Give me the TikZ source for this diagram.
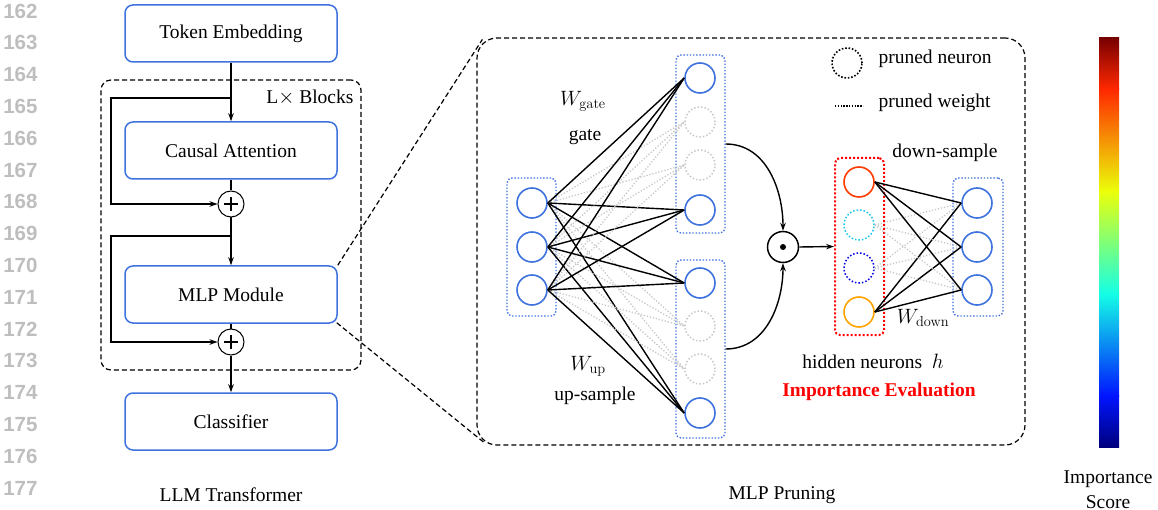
\documentclass[tikz,border=0pt]{standalone}
\usepackage[no-math]{fontspec}
\setmainfont{Liberation Serif}
\newfontfamily\numfont{Liberation Sans}
\usetikzlibrary{arrows.meta}
\definecolor{boxblue}{RGB}{62,114,222}
\definecolor{linegray}{RGB}{190,190,190}
\definecolor{prgray}{RGB}{200,200,200}
\definecolor{hred}{RGB}{255,60,0}
\definecolor{hcyan}{RGB}{20,200,235}
\definecolor{hblue}{RGB}{0,0,225}
\definecolor{horange}{RGB}{255,165,0}
\definecolor{jetA}{RGB}{120,0,0}
\definecolor{jetB}{RGB}{255,40,0}
\definecolor{jetC}{RGB}{235,255,10}
\definecolor{jetD}{RGB}{20,255,230}
\definecolor{jetE}{RGB}{0,20,255}
\definecolor{jetF}{RGB}{0,0,125}
\tikzset{
  blk/.style={draw=boxblue, line width=1.5pt, rounded corners=8pt, minimum width=212pt, minimum height=57pt, inner sep=0pt},
  arr/.style={line width=1.4pt, -{Stealth[length=8pt,width=5.5pt]}},
  ln/.style={line width=1.4pt},
  plusc/.style={circle, draw, line width=1pt, minimum size=26pt, inner sep=0pt},
  plusbar/.style={line width=2pt},
  frame/.style={draw, line width=1.2pt, dash pattern=on 5pt off 3pt, rounded corners=#1},
  neuron/.style={circle, draw=boxblue, line width=1.6pt, minimum size=30pt, inner sep=0pt},
  pneuron/.style={circle, draw=prgray, line width=1.5pt, dash pattern=on 1.5pt off 2pt, minimum size=30pt, inner sep=0pt},
  grp/.style={draw=boxblue, line width=1.4pt, dash pattern=on 1.4pt off 1.8pt, rounded corners=5pt, inner sep=0pt},
  wt/.style={line width=1.4pt},
  pwt/.style={draw=prgray, line width=1.3pt, dash pattern=on 1.3pt off 1.8pt},
  lnum/.style={anchor=east, text=linegray, font=\numfont\bfseries\fontsize{20.5}{24}\selectfont},
}
\begin{document}
\begin{tikzpicture}[x=1pt,y=-1pt,font=\fontsize{19.5}{23}\selectfont]
\useasboundingbox (0,0) rectangle (1158,510);
% line numbers
\foreach \i [evaluate=\i as \yy using 11+31.8*\i, evaluate=\i as \num using int(162+\i)] in {0,...,15}
  \node[lnum] (n\i) at (41,\yy) {\num};
% left column
\node[frame=10pt, minimum width=260pt, minimum height=290pt, inner sep=0pt] (blocks) at (231,225) {};
\node[blk] (tok) at (231,33.5) {Token Embedding};
\node[blk] (att) at (231,150.5) {Causal Attention};
\node[blk] (mlp) at (231,294.5) {MLP Module};
\node[blk] (cls) at (231,421.5) {Classifier};
\node[plusc] (p1) at (231,204) {};
\node[plusc] (p2) at (231,342) {};
\foreach \p in {p1,p2}{
  \draw[plusbar] ([xshift=-7pt]\p.center) -- ([xshift=7pt]\p.center);
  \draw[plusbar] ([yshift=-7pt]\p.center) -- ([yshift=7pt]\p.center);
}
\node[anchor=east] (lbl) at (357,98) {L$\times$ Blocks};
\coordinate (s1) at (231,98);
\coordinate (s2) at (231,236);
\draw[arr] (tok) -- (att);
\draw[ln] (att) -- (p1);
\draw[arr] (p1) -- (mlp);
\draw[ln] (mlp) -- (p2);
\draw[arr] (p2) -- (cls);
\draw[arr] (s1) -- (111,98) |- (p1.west);
\draw[arr] (s2) -- (111,236) |- (p2.west);
\node (llm) at (231,495) {LLM Transformer};
% big box
\node[frame=20pt, minimum width=548pt, minimum height=407pt, inner sep=0pt] (big) at (751,241.5) {};
\draw[line width=1.2pt, dash pattern=on 5pt off 3pt] (mlp.north east) -- ([shift={(6,2)}]big.north west);
\draw[line width=1.2pt, dash pattern=on 5pt off 3pt] ([shift={(-1,-1)}]mlp.south east) -- ([shift={(9,-2)}]big.south west);
\node (mlpp) at (782,495) {MLP Pruning};
% groups
\node[grp, minimum width=49pt, minimum height=138pt] (gin) at (531.5,247) {};
\node[grp, minimum width=49pt, minimum height=178pt] (ggate) at (700.5,144) {};
\node[grp, minimum width=49pt, minimum height=178pt] (gup) at (700.5,349) {};
\node[grp, minimum width=50pt, minimum height=138pt] (gout) at (978,247) {};
\node[grp, draw=red, line width=2pt, dash pattern=on 2pt off 2pt, minimum width=49pt, minimum height=177pt] (ghid) at (859.5,246.5) {};
% neurons
\node[neuron] (in1) at (532,203) {};
\node[neuron] (in2) at (532,247) {};
\node[neuron] (in3) at (532,290) {};
\node[neuron] (g1) at (700,78) {};
\node[pneuron] (g2) at (700,122) {};
\node[pneuron] (g3) at (700,165) {};
\node[neuron] (g4) at (700,210) {};
\node[neuron] (u1) at (700,283) {};
\node[pneuron] (u2) at (700,326) {};
\node[pneuron] (u3) at (700,369) {};
\node[neuron] (u4) at (700,413) {};
\node[neuron, draw=hred] (h1) at (859,182) {};
\node[pneuron, draw=hcyan] (h2) at (859,225) {};
\node[pneuron, draw=hblue] (h3) at (859,268) {};
\node[neuron, draw=horange] (h4) at (859,312) {};
\node[neuron] (o1) at (977,203) {};
\node[neuron] (o2) at (977,247) {};
\node[neuron] (o3) at (977,290) {};
% weights
\foreach \i in {1,2,3}{
  \foreach \j in {2,3}{
    \draw[pwt] (in\i.east) -- (g\j.west);
    \draw[pwt] (in\i.east) -- (u\j.west);
  }
  \foreach \j in {1,4}{
    \draw[wt] (in\i.east) -- (g\j.west);
    \draw[wt] (in\i.east) -- (u\j.west);
  }
}
\foreach \k in {1,2,3}{
  \draw[pwt] (h2.east) -- (o\k.west);
  \draw[pwt] (h3.east) -- (o\k.west);
  \draw[wt] (h1.east) -- (o\k.west);
  \draw[wt] (h4.east) -- (o\k.west);
}
% hadamard
\node[circle, draw, line width=1.5pt, minimum size=31pt, inner sep=0pt] (had) at (783,247) {};
\fill (had.center) circle (3pt);
\draw[arr] (ggate.east) to[out=0,in=90] (had.north);
\draw[arr] (gup.east) to[out=0,in=-90] (had.south);
\draw[arr] (had.east) -- (ghid.west);
% labels
\node (wg) at (583,101) {$W_{\mathrm{gate}}$};
\node (gl) at (585,137) {gate};
\node (wu) at (588,366) {$W_{\mathrm{up}}$};
\node (ul) at (595,396) {up-sample};
\node (ds) at (945,153) {down-sample};
\node (wd) at (923,318) {$W_{\mathrm{down}}$};
\node (hn) at (873,361) {hidden neurons \ $h$};
\node[text=red, font=\bfseries\fontsize{19.5}{23}\selectfont] (ie) at (879,392) {Importance Evaluation};
% legend
\node[circle, draw, line width=1.6pt, dash pattern=on 1.6pt off 1.8pt, minimum size=30pt, inner sep=0pt] (lgn) at (847,63) {};
\node[anchor=west] (lgt1) at (875,59) {pruned neuron};
\coordinate (lga) at (835,106);
\coordinate (lgb) at (863,106);
\draw[line width=1.3pt, dash pattern=on 1.3pt off 1.5pt] (lga) -- (lgb);
\node[anchor=west] (lgt2) at (875,103) {pruned weight};
% colorbar
\shade[top color=jetA, bottom color=jetB] (1099,38) rectangle (1119,89.2);
\shade[top color=jetB, bottom color=jetC] (1099,89) rectangle (1119,191.6);
\shade[top color=jetC, bottom color=jetD] (1099,191.4) rectangle (1119,293.8);
\shade[top color=jetD, bottom color=jetE] (1099,293.6) rectangle (1119,396.1);
\shade[top color=jetE, bottom color=jetF] (1099,395.9) rectangle (1119,447);
\node[anchor=base, inner sep=0pt] (cbl1) at (1108,483) {Importance};
\node[anchor=base, inner sep=0pt] (cbl2) at (1108,508) {Score};
\end{tikzpicture}
\end{document}
